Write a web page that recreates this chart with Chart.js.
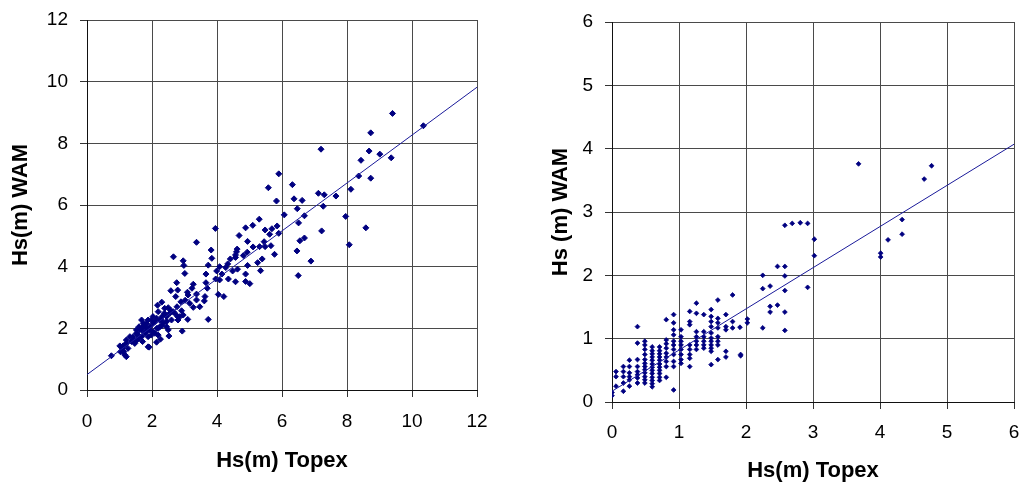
<!DOCTYPE html>
<html><head><meta charset="utf-8">
<script src="https://cdn.jsdelivr.net/npm/chart.js@4/dist/chart.umd.min.js"></script>
<style>
html,body{margin:0;padding:0;background:#fff;}
#wrap{position:relative;width:1019px;height:482px;overflow:hidden;}
.box{position:absolute;top:0;height:482px;}
</style></head>
<body>
<div id="wrap">
  <div class="box" style="left:0;width:510px;"><canvas id="c1" width="510" height="482"></canvas></div>
  <div class="box" style="left:520px;width:499px;"><canvas id="c2" width="499" height="482"></canvas></div>
</div>
<script>
// ---------- Left chart data (Hs(m) Topex vs Hs(m) WAM) ----------
const leftTopex = [9.40,10.35,8.73,7.20,8.68,9.01,9.36,8.43,5.90,8.36,8.73,5.58,6.32,8.12,7.12,7.30,7.66,6.37,6.62,5.83,7.27,6.47,6.07,6.69,7.96,5.30,6.51,5.10,5.85,3.95,4.88,8.58,5.69,5.48,7.22,5.90,5.62,4.68,6.69,6.55,4.94,5.45,8.07,5.66,5.11,5.31,5.48,4.62,3.82,6.46,4.60,4.93,5.77,4.57,4.81,3.84,4.41,4.57,5.39,6.89,5.25,4.33,3.73,4.08,4.94,4.27,5.34,4.48,4.63,3.99,3.66,4.15,4.88,6.50,3.96,4.08,4.35,4.57,4.88,5.01,3.66,3.70,4.04,4.21,3.63,
  3.37,2.66,2.96,2.98,3.01,2.76,2.58,2.79,3.27,3.09,3.23,3.37,2.73,3.02,2.30,2.17,2.50,2.57,2.89,3.16,3.27,3.47,3.61,2.77,2.91,2.70,2.79,3.10,2.38,2.31,2.14,2.45,2.60,3.73,2.30,2.93,2.15,2.52,2.26,2.09,2.14,1.91,1.68,1.83,1.93,1.73,1.62,1.83,1.98,1.52,1.68,1.42,1.54,1.37,1.21,1.11,1.26,1.16,1.03,0.75,2.03,2.24,2.03,2.19,2.39,1.88,3.11,3.37,
  1.73,1.60,1.52,1.32,1.21,1.16,1.09,1.01,1.13,1.21,1.42,1.47,1.57,1.83,1.93,1.78,1.88,2.03,2.19,2.24,2.45,2.55,2.65,2.45,2.50,2.86,2.96,2.80,2.29,2.34,2.09,1.98,2.19,1.88,1.71,1.60,1.68,1.78];
const leftWam = [8.97,8.57,8.34,7.81,7.75,7.65,7.53,7.45,7.01,6.94,6.87,6.56,6.66,6.51,6.38,6.33,6.29,6.20,6.15,6.13,5.96,5.88,5.68,5.65,5.63,5.54,5.42,5.34,5.32,5.24,5.26,5.26,5.23,5.19,5.16,5.08,5.05,5.01,4.93,4.84,4.82,4.81,4.71,4.68,4.64,4.65,4.65,4.57,4.54,4.51,4.48,4.47,4.40,4.38,4.36,4.27,4.25,4.30,4.25,4.18,4.13,4.09,4.05,4.00,4.04,3.97,3.87,3.86,3.92,3.86,3.76,3.76,3.76,3.71,3.60,3.57,3.60,3.51,3.52,3.45,3.48,3.30,3.10,3.03,3.03,
  4.79,4.32,4.19,4.04,3.78,3.48,3.22,3.24,3.43,3.17,3.30,3.11,3.03,2.91,2.85,2.75,2.67,2.59,2.86,2.81,2.68,2.70,2.89,2.70,2.57,2.49,2.38,2.29,2.49,2.38,2.33,2.22,2.27,2.29,2.08,1.91,2.00,1.75,1.65,1.84,1.55,1.39,2.27,2.16,2.05,2.05,1.95,1.89,1.78,1.84,1.73,1.73,1.62,1.57,1.51,1.43,1.35,1.14,1.24,1.11,2.16,2.27,2.38,2.54,2.65,2.27,3.08,2.92,
  2.16,2.05,1.95,1.73,1.62,1.46,1.35,1.43,1.24,1.08,1.62,1.51,1.78,2.00,1.95,1.84,1.73,1.89,2.00,2.05,2.38,2.49,2.54,2.05,1.95,2.38,2.43,2.27,2.27,2.16,2.22,2.27,1.78,1.40,1.57,1.68,1.95,2.11];
const leftTrendX = [0, 12];
const leftTrendY = [0.50, 9.82];
const leftTicks = [0, 2, 4, 6, 8, 10, 12];

// ---------- Right chart data (Hs(m) Topex vs Hs (m) WAM) ----------
const rightTopex = [
  0.00,0.00,
  0.06,0.06,0.06,
  0.17,0.17,0.17,0.17,0.17,
  0.26,0.26,0.26,0.26,0.26,0.26,
  0.38,0.38,0.38,0.38,0.38,0.38,0.38,0.38,
  0.49,0.49,0.49,0.49,0.49,0.49,0.49,0.49,0.49,0.49,0.49,0.49,
  0.60,0.60,0.60,0.60,0.60,0.60,0.60,0.60,0.60,0.60,0.60,0.60,0.60,
  0.71,0.71,0.71,0.71,0.71,0.71,0.71,0.71,0.71,0.71,0.71,
  0.81,0.81,0.81,0.81,0.81,0.81,0.81,0.81,0.81,
  0.92,0.92,0.92,0.92,0.92,0.92,0.92,0.92,0.92,0.92,0.92,
  1.03,1.03,1.03,1.03,1.03,1.03,1.03,1.03,
  1.16,1.16,1.16,1.16,1.16,1.16,1.16,1.16,
  1.26,1.26,1.26,1.26,1.26,1.26,1.26,
  1.37,1.37,1.37,1.37,1.37,1.37,
  1.48,1.48,1.48,1.48,1.48,1.48,1.48,1.48,1.48,1.48,1.48,
  1.58,1.58,1.58,1.58,1.58,1.58,1.58,1.58,
  1.70,1.70,1.70,1.70,1.70,
  1.80,1.80,1.80,
  1.91,1.92,1.92,
  2.02,2.02,2.25,2.25,2.36,2.36,2.47,2.47,2.58,2.58,2.58,2.58,2.92,2.25,2.36,2.58,
  2.58,2.69,2.81,2.92,3.02,3.02,
  3.68,4.77,4.66,4.33,4.12,4.33,4.01,4.01];
const rightWam = [
  0.10,0.15,
  0.48,0.40,0.25,
  0.56,0.48,0.40,0.30,0.17,
  0.66,0.56,0.46,0.40,0.35,0.25,
  1.19,0.93,0.67,0.56,0.48,0.43,0.38,0.30,
  0.96,0.90,0.83,0.75,0.67,0.61,0.56,0.51,0.46,0.40,0.35,0.30,
  0.87,0.81,0.76,0.71,0.66,0.60,0.55,0.50,0.45,0.39,0.34,0.29,0.24,
  0.87,0.81,0.76,0.71,0.66,0.60,0.55,0.50,0.45,0.39,0.34,
  1.30,0.98,0.92,0.85,0.77,0.71,0.64,0.56,0.39,
  1.38,1.25,1.14,1.06,0.96,0.90,0.83,0.75,0.64,0.56,0.19,
  1.14,1.03,0.96,0.90,0.83,0.75,0.67,0.61,
  1.43,1.27,1.22,0.90,0.83,0.75,0.69,0.56,
  1.56,1.40,1.11,1.03,0.96,0.90,0.83,
  1.38,1.11,1.03,0.96,0.90,0.85,
  1.46,1.35,1.27,1.19,1.09,1.01,0.96,0.90,0.85,0.80,0.59,
  1.61,1.32,1.25,1.17,1.03,0.96,0.90,0.67,
  1.38,1.19,1.14,0.80,0.71,
  1.69,1.27,1.17,
  1.18,0.75,0.73,
  1.31,1.25,2.00,1.79,1.83,1.51,2.14,1.53,1.99,1.76,1.42,1.13,1.81,1.17,1.42,2.14,
  2.79,2.82,2.83,2.82,2.57,2.31,
  3.76,3.73,3.52,2.88,2.56,2.65,2.35,2.29];
const rightTrendX = [0, 6];
const rightTrendY = [0.17, 4.07];
const rightTicks = [0, 1, 2, 3, 4, 5, 6];

// ---------- helpers ----------
const zip = (xs, ys) => xs.map((x, i) => ({x: x, y: ys[i]}));
const FONT = "'Liberation Sans', Arial, sans-serif";
const NAVY = '#000080';

function fixPad(s) { s.paddingLeft = 0; s.paddingRight = 0; s.paddingTop = 0; s.paddingBottom = 0; }

function makeChart(id, pts, trend, ticks, step, xTitle, yTitle, geo) {
  const max = ticks[ticks.length - 1];
  return new Chart(document.getElementById(id), {
    type: 'scatter',
    data: {
      datasets: [
        { data: trend, showLine: true, borderColor: '#1a1a9a', borderWidth: 1,
          pointRadius: 0, pointHoverRadius: 0, fill: false },
        { data: pts, pointStyle: 'rectRot', pointRadius: geo.r,
          pointBackgroundColor: NAVY, pointBorderColor: NAVY, pointBorderWidth: geo.bw, showLine: false }
      ]
    },
    options: {
      responsive: false, animation: false, devicePixelRatio: 1,
      layout: { padding: geo.pad },
      plugins: { legend: { display: false }, tooltip: { enabled: false } },
      scales: {
        x: {
          type: 'linear', min: 0, max: max,
          ticks: { stepSize: step, color: '#000', padding: geo.xtp, font: { family: FONT, size: 19 } },
          grid: { color: '#4a4a4a', lineWidth: 1, tickLength: 7, tickColor: '#333' },
          border: { color: '#111', width: 1 },
          title: { display: true, text: xTitle, color: '#000',
                   font: { family: FONT, size: 22, weight: 'bold', lineHeight: 1 },
                   padding: { top: 0, bottom: geo.xtitle } },
          afterFit: s => { s.height = geo.xh; fixPad(s); }
        },
        y: {
          type: 'linear', min: 0, max: max,
          ticks: { stepSize: step, color: '#000', padding: 12, font: { family: FONT, size: 19 } },
          grid: { color: '#4a4a4a', lineWidth: 1, tickLength: 7, tickColor: '#333' },
          border: { color: '#111', width: 1 },
          title: { display: true, text: yTitle, color: '#000',
                   font: { family: FONT, size: 22, weight: 'bold', lineHeight: 1 },
                   padding: { top: geo.ytitle, bottom: 0 } },
          afterFit: s => { s.width = geo.yw; fixPad(s); }
        }
      }
    }
  });
}

makeChart('c1', zip(leftTopex, leftWam), zip(leftTrendX, leftTrendY), leftTicks, 2,
  'Hs(m) Topex', 'Hs(m) WAM',
  { pad: { left: 0, right: 33, top: 20, bottom: 0 }, yw: 87, xh: 92, xtp: 13, xtitle: 10, ytitle: 10, r: 3, bw: 1 });

makeChart('c2', zip(rightTopex, rightWam), zip(rightTrendX, rightTrendY), rightTicks, 1,
  'Hs(m) Topex', 'Hs (m) WAM',
  { pad: { left: 0, right: 5, top: 22, bottom: 0 }, yw: 92, xh: 80, xtp: 12, xtitle: 0, ytitle: 30, r: 2.4, bw: 0.8 });
</script>
</body></html>
